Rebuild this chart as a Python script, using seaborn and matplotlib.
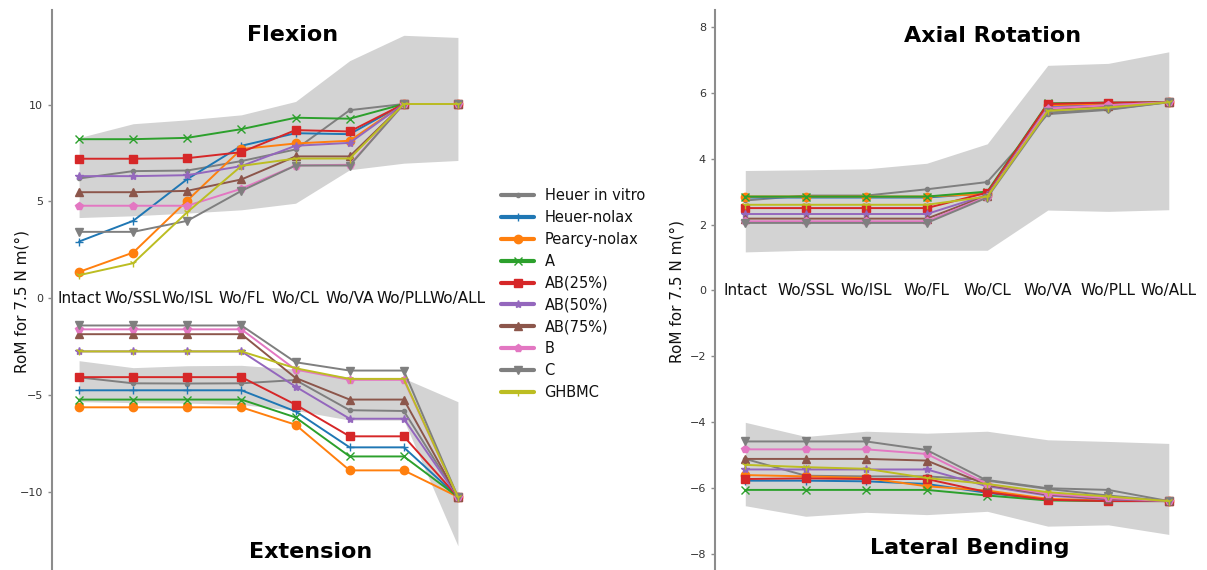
import numpy as np
import pandas as pd
import matplotlib
matplotlib.use("Agg")
import matplotlib.pyplot as plt
import seaborn as sns
from matplotlib.lines import Line2D

steps = ["Intact", "Wo/SSL", "Wo/ISL", "Wo/FL", "Wo/CL", "Wo/VA", "Wo/PLL", "Wo/ALL"]
models = ["Heuer in vitro", "Heuer-nolax", "Pearcy-nolax", "A", "AB(25%)",
          "AB(50%)", "AB(75%)", "B", "C", "GHBMC"]

# ---- Flexion (positive, left panel)
flex_invitro = [6.19, 6.57, 6.60, 7.09, 7.69, 9.72, 10.04, 10.04]
flex_heuer = [2.93, 4.00, 6.16, 7.88, 8.53, 8.48, 10.04, 10.04]
flex_pearcy = [1.36, 2.36, 5.05, 7.71, 8.00, 8.14, 10.04, 10.04]
flex_A = [8.22, 8.22, 8.29, 8.74, 9.33, 9.28, 10.04, 10.04]
flex_AB25 = [7.21, 7.21, 7.24, 7.55, 8.69, 8.62, 10.04, 10.04]
flex_AB50 = [6.31, 6.31, 6.36, 6.83, 7.88, 8.03, 10.04, 10.04]
flex_AB75 = [5.48, 5.48, 5.55, 6.14, 7.33, 7.33, 10.04, 10.04]
flex_B = [4.78, 4.78, 4.78, 5.66, 6.86, 6.90, 10.04, 10.04]
flex_C = [3.43, 3.43, 4.00, 5.55, 6.86, 6.86, 10.04, 10.04]
flex_GHBMC = [1.19, 1.81, 4.45, 6.84, 7.22, 7.22, 10.04, 10.04]
flex_lo = [4.17, 4.26, 4.40, 4.57, 4.91, 6.64, 6.98, 7.12]
flex_hi = [8.30, 9.02, 9.22, 9.48, 10.17, 12.28, 13.59, 13.48]

# ---- Extension (negative, left panel)
ext_invitro = [-4.09, -4.40, -4.41, -4.40, -4.23, -5.79, -5.83, -10.27]
ext_heuer = [-4.76, -4.76, -4.76, -4.76, -5.85, -7.71, -7.71, -10.27]
ext_pearcy = [-5.64, -5.64, -5.64, -5.64, -6.54, -8.90, -8.90, -10.27]
ext_A = [-5.24, -5.24, -5.24, -5.24, -6.16, -8.18, -8.18, -10.27]
ext_AB25 = [-4.08, -4.08, -4.08, -4.08, -5.50, -7.14, -7.14, -10.27]
ext_AB50 = [-2.75, -2.75, -2.75, -2.75, -4.57, -6.23, -6.23, -10.27]
ext_AB75 = [-1.86, -1.86, -1.86, -1.86, -4.12, -5.24, -5.24, -10.27]
ext_B = [-1.61, -1.61, -1.61, -1.61, -3.69, -4.22, -4.22, -10.27]
ext_C = [-1.41, -1.41, -1.41, -1.41, -3.31, -3.74, -3.74, -10.27]
ext_GHBMC = [-2.75, -2.75, -2.75, -2.75, -3.62, -4.17, -4.17, -10.27]
ext_hi = [-3.23, -3.59, -3.49, -3.47, -3.67, -4.09, -4.14, -5.35]
ext_lo = [-5.35, -5.40, -5.42, -5.50, -5.80, -6.30, -6.30, -12.80]

# ---- Axial rotation (positive, right panel)
ax_invitro = [2.73, 2.88, 2.88, 3.07, 3.29, 5.35, 5.48, 5.71]
ax_heuer = [2.82, 2.82, 2.82, 2.82, 2.95, 5.60, 5.65, 5.71]
ax_pearcy = [2.85, 2.85, 2.85, 2.85, 2.93, 5.62, 5.66, 5.71]
ax_A = [2.85, 2.85, 2.85, 2.85, 3.00, 5.68, 5.70, 5.71]
ax_AB25 = [2.50, 2.50, 2.50, 2.50, 2.97, 5.66, 5.70, 5.71]
ax_AB50 = [2.32, 2.32, 2.32, 2.32, 2.90, 5.55, 5.62, 5.71]
ax_AB75 = [2.18, 2.18, 2.18, 2.18, 2.88, 5.50, 5.60, 5.71]
ax_B = [2.10, 2.10, 2.10, 2.10, 2.85, 5.52, 5.62, 5.71]
ax_C = [2.05, 2.05, 2.05, 2.05, 2.82, 5.40, 5.50, 5.71]
ax_GHBMC = [2.60, 2.60, 2.60, 2.60, 2.85, 5.45, 5.55, 5.71]
ax_lo = [1.17, 1.22, 1.22, 1.22, 1.22, 2.44, 2.40, 2.45]
ax_hi = [3.64, 3.66, 3.69, 3.86, 4.45, 6.83, 6.89, 7.24]

# ---- Lateral bending (negative, right panel)
lat_invitro = [-5.11, -5.62, -5.64, -5.64, -5.75, -6.00, -6.05, -6.39]
lat_heuer = [-5.77, -5.77, -5.79, -5.87, -6.14, -6.35, -6.37, -6.39]
lat_pearcy = [-5.60, -5.64, -5.69, -5.94, -6.07, -6.32, -6.37, -6.39]
lat_A = [-6.05, -6.05, -6.05, -6.05, -6.22, -6.37, -6.39, -6.39]
lat_AB25 = [-5.72, -5.70, -5.72, -5.72, -6.12, -6.35, -6.39, -6.39]
lat_AB50 = [-5.43, -5.43, -5.43, -5.43, -5.94, -6.22, -6.34, -6.39]
lat_AB75 = [-5.11, -5.11, -5.11, -5.16, -5.90, -6.19, -6.32, -6.39]
lat_B = [-4.82, -4.82, -4.82, -4.96, -5.87, -6.17, -6.30, -6.39]
lat_C = [-4.58, -4.58, -4.58, -4.84, -5.77, -6.02, -6.22, -6.39]
lat_GHBMC = [-5.29, -5.36, -5.41, -5.69, -5.87, -6.12, -6.25, -6.39]
lat_hi = [-4.00, -4.43, -4.27, -4.33, -4.27, -4.53, -4.58, -4.64]
lat_lo = [-6.53, -6.85, -6.73, -6.80, -6.70, -7.15, -7.11, -7.40]

colors = ["#7f7f7f", "#1f77b4", "#ff7f0e", "#2ca02c", "#d62728",
          "#9467bd", "#8c564b", "#e377c2", "#7f7f7f", "#bcbd22"]
marker_list = [".", "+", "o", "x", "s", "*", "^", "p", "v", "1"]

sns.set_theme(style="ticks")
plt.rcParams["font.family"] = ["DejaVu Sans"]


def draw(ax, upper, lower, up_band, low_band, label_xy):
    pos = np.arange(len(steps))
    ax.fill_between(pos, up_band[0], up_band[1], color="#d3d3d3", lw=0, zorder=0)
    ax.fill_between(pos, low_band[0], low_band[1], color="#d3d3d3", lw=0, zorder=0)
    for series in (upper, lower):
        for name, vals, c, m in zip(models, series, colors, marker_list):
            df = pd.DataFrame({"pos": pos, "value": vals})
            sns.lineplot(data=df, x="pos", y="value", color=c, marker=m,
                         mec=c, mew=1.0, markersize=6, lw=1.4, sort=False,
                         errorbar=None, legend=False, ax=ax)
    ax.set_xticks(pos)
    ax.set_xticklabels(steps)
    ax.spines["bottom"].set_position(("data", 0))
    ax.spines["bottom"].set_visible(False)
    ax.spines["top"].set_visible(False)
    ax.spines["right"].set_visible(False)
    ax.spines["left"].set_color("#8c8c8c")
    ax.spines["left"].set_linewidth(1.5)
    ax.tick_params(axis="x", length=0, pad=0, labelsize=11, colors="#111111")
    for lab in ax.get_xticklabels():
        lab.set_verticalalignment("center")
    ax.tick_params(axis="y", length=3, width=1, color="#8c8c8c", labelsize=8,
                   labelcolor="#333333")
    ax.set_xlim(-0.5, 7.5)
    ax.set_xlabel("")
    ax.set_ylabel("RoM for 7.5 N m(°)", fontsize=11, color="#111111")
    ax.yaxis.set_label_coords(*label_xy)


fig = plt.figure(figsize=(12.07, 5.70), dpi=100)
axL = fig.add_axes([0.0431, 0.0, 0.3587, 0.9825])
axR = fig.add_axes([0.5924, 0.0, 0.4010, 0.9825])

draw(axL,
     [flex_invitro, flex_heuer, flex_pearcy, flex_A, flex_AB25, flex_AB50,
      flex_AB75, flex_B, flex_C, flex_GHBMC],
     [ext_invitro, ext_heuer, ext_pearcy, ext_A, ext_AB25, ext_AB50,
      ext_AB75, ext_B, ext_C, ext_GHBMC],
     (flex_lo, flex_hi), (ext_lo, ext_hi), (-0.053, 0.48))
axL.set_ylim(-14.05, 14.9)
axL.set_yticks([-10, -5, 0, 5, 10])
axL.text(3.95, 13.6, "Flexion", ha="center", va="center", fontsize=16,
         fontweight="bold", color="black")
axL.text(4.27, -13.1, "Extension", ha="center", va="center", fontsize=16,
         fontweight="bold", color="black")

draw(axR,
     [ax_invitro, ax_heuer, ax_pearcy, ax_A, ax_AB25, ax_AB50,
      ax_AB75, ax_B, ax_C, ax_GHBMC],
     [lat_invitro, lat_heuer, lat_pearcy, lat_A, lat_AB25, lat_AB50,
      lat_AB75, lat_B, lat_C, lat_GHBMC],
     (ax_lo, ax_hi), (lat_lo, lat_hi), (-0.064, 0.497))
axR.set_ylim(-8.48, 8.51)
axR.set_yticks([-8, -6, -4, -2, 0, 2, 4, 6, 8])
axR.text(4.09, 7.73, "Axial Rotation", ha="center", va="center", fontsize=16,
         fontweight="bold", color="black")
axR.text(3.71, -7.8, "Lateral Bending", ha="center", va="center", fontsize=16,
         fontweight="bold", color="black")

handles = [Line2D([0], [0], color=c, marker=m, lw=3, markersize=6, mec=c)
           for c, m in zip(colors, marker_list)]
fig.legend(handles, models, loc="center left", bbox_to_anchor=(0.404, 0.484),
           frameon=False, fontsize=10.5, handlelength=2.3, handletextpad=0.7,
           labelspacing=0.47, labelcolor="#111111")

fig.savefig("out.png", dpi=100)
